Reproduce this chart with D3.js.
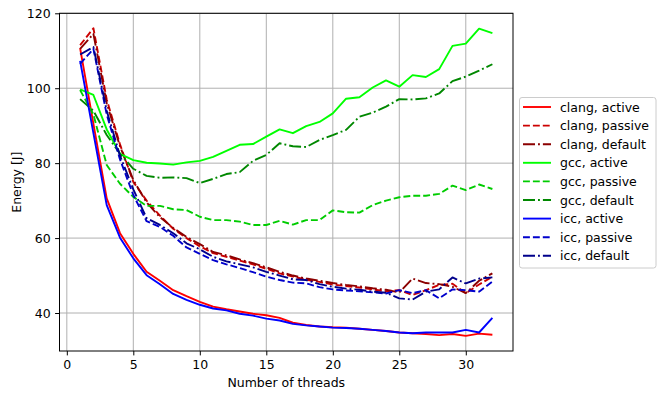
<!DOCTYPE html>
<html>
<head>
<meta charset="utf-8">
<script src="https://cdn.jsdelivr.net/npm/d3@7"></script>
<style>
  body { margin: 0; background: #fff; }
  svg text { font-family: "DejaVu Sans", sans-serif; fill: #000; }
  .axis path, .axis line { stroke: #000; stroke-width: 1px; }
  .axis text { font-size: 12.5px; }
  .grid line { stroke: #b0b0b0; stroke-width: 1px; }
</style>
</head>
<body>
<svg id="chart"></svg>
<script>
// thread counts 1..32
const threads = [1,2,3,4,5,6,7,8,9,10,11,12,13,14,15,16,17,18,19,20,21,22,23,24,25,26,27,28,29,30,31,32];

const clangActive  = [110.7,90.5,70.6,61.3,55.8,51.0,48.6,46.1,44.5,43.0,41.7,41.0,40.4,39.8,39.4,38.7,37.4,36.8,36.4,36.2,36.1,35.8,35.5,35.2,34.8,34.6,34.4,34.1,34.4,33.9,34.5,34.2];
const clangPassive = [111.5,116.0,97.0,85.0,75.0,70.0,66.0,62.5,60.0,57.8,56.0,55.0,54.0,53.0,51.8,50.6,49.7,48.9,48.3,47.6,47.2,46.8,46.3,45.8,46.1,44.8,46.1,47.5,47.8,45.3,47.6,49.7];
const clangDefault = [110.5,114.5,96.0,84.5,75.5,69.5,65.6,62.7,60.3,58.4,56.3,55.4,54.3,53.3,52.2,51.0,50.0,49.2,48.6,48.0,47.5,47.1,46.6,46.2,45.5,49.2,48.0,47.7,47.0,45.3,48.6,50.6];

const gccActive  = [99.7,98.2,89.0,82.5,80.8,80.1,79.9,79.6,80.2,80.6,81.7,83.3,84.9,85.1,87.1,89.0,88.0,89.9,91.0,93.3,97.2,97.6,100.2,102.1,100.4,103.5,103.0,105.1,111.3,111.9,115.9,114.7];
const gccPassive = [99.5,93.0,79.5,74.5,71.0,68.6,68.6,67.7,67.5,65.7,64.8,64.8,64.4,63.5,63.5,64.6,63.6,64.8,64.8,67.4,66.9,66.8,68.8,70.0,70.9,71.3,71.3,71.8,74.0,72.8,74.3,73.1];
const gccDefault = [97.1,94.0,87.5,82.5,78.5,76.6,76.1,76.2,76.0,74.7,75.8,77.1,77.6,80.6,82.2,85.3,84.5,84.3,86.2,87.5,88.9,92.4,93.5,95.1,97.1,97.0,97.3,98.6,101.9,103.1,104.7,106.4];

const iccActive  = [107.3,88.0,68.8,60.1,54.6,50.1,47.7,45.1,43.5,42.2,41.2,40.7,39.8,39.3,38.5,38.0,37.1,36.7,36.4,36.1,36.0,35.8,35.5,35.2,34.8,34.6,34.8,34.8,34.8,35.5,34.8,38.7];
const iccPassive = [106.5,110.5,93.0,81.0,71.5,64.5,63.0,60.6,57.5,55.8,54.1,53.0,52.0,50.9,49.7,48.8,48.1,47.9,46.9,46.3,46.0,45.8,45.5,45.2,46.1,45.3,46.1,43.9,46.3,46.1,45.7,48.4];
const iccDefault = [109.0,111.0,94.0,82.0,73.0,65.3,63.5,61.3,58.6,57.0,55.0,53.8,53.0,52.2,51.0,50.0,49.0,48.8,47.7,47.0,46.5,46.2,45.7,45.4,43.9,43.6,45.7,46.3,49.5,47.9,49.2,49.5];

const seriesNames = ["clang, active","clang, passive","clang, default","gcc, active","gcc, passive","gcc, default","icc, active","icc, passive","icc, default"];
const seriesValues = [clangActive, clangPassive, clangDefault, gccActive, gccPassive, gccDefault, iccActive, iccPassive, iccDefault];

const xTicks = [0,5,10,15,20,25,30];
const yTicks = [40,60,80,100,120];

// styling per series
const colors = ["#ff0000","#cc0000","#8b0000","#00ff00","#00cc00","#008800","#0000ff","#0000cc","#00008b"];
const dashes = { solid: null, dashed: "6.9,3", dashdot: "12,3,1.9,3" };
const styles = ["solid","dashed","dashdot","solid","dashed","dashdot","solid","dashed","dashdot"];

const width = 665, height = 399;
const plot = { left: 59.5, right: 513, top: 13.3, bottom: 351 };

const svg = d3.select("#chart")
    .attr("width", width)
    .attr("height", height);

const x = d3.scaleLinear().domain([-0.55, 33.55]).range([plot.left, plot.right]);
const y = d3.scaleLinear().domain([29.86, 120.0]).range([plot.bottom, plot.top]);

// grid
const grid = svg.append("g").attr("class", "grid");
grid.selectAll(".gx").data(xTicks).join("line")
    .attr("x1", d => x(d)).attr("x2", d => x(d))
    .attr("y1", plot.top).attr("y2", plot.bottom);
grid.selectAll(".gy").data(yTicks).join("line")
    .attr("x1", plot.left).attr("x2", plot.right)
    .attr("y1", d => y(d)).attr("y2", d => y(d));

// lines
const line = d3.line()
    .x((d, i) => x(threads[i]))
    .y(d => y(d));

svg.append("g").selectAll("path")
    .data(seriesValues)
    .join("path")
    .attr("d", line)
    .attr("fill", "none")
    .attr("stroke", (d, i) => colors[i])
    .attr("stroke-width", 1.9)
    .attr("stroke-linejoin", "round")
    .attr("stroke-dasharray", (d, i) => dashes[styles[i]]);

// axes
const xAxis = d3.axisBottom(x).tickValues(xTicks).tickSize(4.4).tickPadding(4.5);
const yAxis = d3.axisLeft(y).tickValues(yTicks).tickSize(4.4).tickPadding(4.5);

svg.append("g").attr("class", "axis")
    .attr("transform", `translate(0,${plot.bottom})`)
    .call(xAxis)
    .call(g => g.select(".domain").remove())
    .selectAll("text").attr("dy", "0.75em");

svg.append("g").attr("class", "axis")
    .attr("transform", `translate(${plot.left},0)`)
    .call(yAxis)
    .call(g => g.select(".domain").remove());

// frame
svg.append("rect")
    .attr("x", plot.left).attr("y", plot.top)
    .attr("width", plot.right - plot.left)
    .attr("height", plot.bottom - plot.top)
    .attr("fill", "none")
    .attr("stroke", "#000")
    .attr("stroke-width", 1);

// axis titles
svg.append("text")
    .attr("x", (plot.left + plot.right) / 2)
    .attr("y", 387)
    .attr("text-anchor", "middle")
    .attr("font-size", "12.5px")
    .text("Number of threads");

svg.append("text")
    .attr("transform", `translate(21,${(plot.top + plot.bottom) / 2}) rotate(-90)`)
    .attr("text-anchor", "middle")
    .attr("font-size", "12.5px")
    .text("Energy [J]");

// legend
const legend = svg.append("g");
legend.append("rect")
    .attr("x", 519.5).attr("y", 97.5)
    .attr("width", 136.5).attr("height", 170.5)
    .attr("rx", 2.5)
    .attr("fill", "#fff").attr("fill-opacity", 0.8)
    .attr("stroke", "#cccccc").attr("stroke-width", 1);

const rows = legend.selectAll(".row")
    .data(seriesNames)
    .join("g")
    .attr("transform", (d, i) => `translate(0,${107 + i * 18.6})`);

rows.append("line")
    .attr("x1", 523).attr("x2", 551)
    .attr("y1", 0).attr("y2", 0)
    .attr("stroke", (d, i) => colors[i])
    .attr("stroke-width", 1.9)
    .attr("stroke-dasharray", (d, i) => dashes[styles[i]]);

rows.append("text")
    .attr("x", 560)
    .attr("y", 0)
    .attr("dy", "0.36em")
    .attr("font-size", "12.5px")
    .text(d => d);
</script>
</body>
</html>
